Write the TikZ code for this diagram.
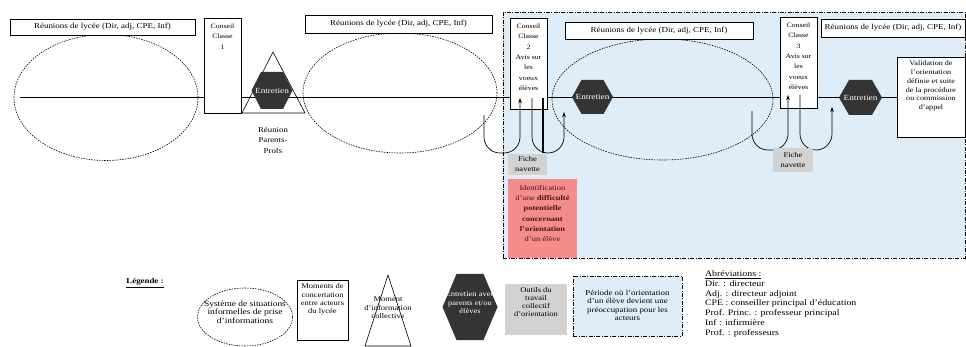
\documentclass[tikz,border=0pt]{standalone}
\usepackage{fontspec}
\setmainfont{Liberation Serif}[FakeStretch=1.18]
\usetikzlibrary{arrows.meta,shapes.geometric}
\definecolor{zoneblue}{RGB}{222,237,248}
\definecolor{hexgray}{RGB}{52,52,52}
\definecolor{toolgray}{RGB}{210,210,210}
\definecolor{alertpink}{RGB}{245,140,140}
\definecolor{inkred}{RGB}{70,20,20}
\newcommand\hexfill[2]{\fill[hexgray] (#1.west) -- ([xshift=#2]#1.north west) -- ([xshift=-#2]#1.north east) -- (#1.east) -- ([xshift=-#2]#1.south east) -- ([xshift=#2]#1.south west) -- cycle;}
\begin{document}
\begin{tikzpicture}[x=1pt,y=-1pt,
  every node/.style={inner sep=0pt, outer sep=0pt},
  frame/.style={draw, fill=white, line width=0.6pt},
  reunion/.style={frame, font=\fontsize{7.6}{9}\selectfont},
  ctext/.style={align=center, anchor=north, font=\fontsize{6.6}{10.3}\selectfont},
  situation/.style={ellipse, draw, line width=0.6pt, dash pattern=on 1.5pt off 1.1pt},
  hextext/.style={text=white, align=center, font=\fontsize{7.8}{9}\selectfont},
  toolbox/.style={fill=toolgray, align=center, font=\fontsize{7.2}{10}\selectfont},
  navarrow/.style={line width=0.7pt, rounded corners=16pt, -{Stealth[length=5pt,width=3.5pt]}},
  zonestyle/.style={draw, fill=zoneblue, line width=0.6pt, dash pattern=on 4pt off 1.5pt on 0.8pt off 1.5pt},
  mainline/.style={line width=0.7pt},
  legtext/.style={align=center, font=\fontsize{7.2}{8.4}\selectfont},
]
\useasboundingbox (0,0) rectangle (966,347);
% period zone
\node[zonestyle, minimum width=462pt, minimum height=246pt] (zone) at (734,135) {};
% informal situations
\node[situation, minimum width=184pt, minimum height=126pt] (sit1) at (106,97.5) {};
\node[situation, minimum width=194pt, minimum height=120pt] (sit2) at (400,93) {};
\node[situation, minimum width=221pt, minimum height=121pt] (sit3) at (662.5,99.5) {};
% main line
\coordinate (lstart) at (20,97);
\node[frame, minimum width=68pt, minimum height=80pt] (valid) at (931,97) {};
\node[align=center, anchor=north, font=\fontsize{6.9}{8.8}\selectfont] (validt) at ([yshift=-4pt]valid.north) {Validation de\\l'orientation\\définie et suite\\de la procédure\\ou commission\\d'appel};
\draw[mainline] (lstart) -- (valid.west);
% reunions
\node[reunion, minimum width=185pt, minimum height=16pt] (reu1) at (102.5,27) {Réunions de lycée (Dir, adj, CPE, Inf)};
\node[reunion, minimum width=187pt, minimum height=18pt] (reu2) at (398.5,24) {Réunions de lycée (Dir, adj, CPE, Inf)};
\node[reunion, minimum width=188pt, minimum height=17pt] (reu3) at (659,30.5) {Réunions de lycée (Dir, adj, CPE, Inf)};
\node[reunion, minimum width=144pt, minimum height=18pt] (reu4) at (893,28) {Réunions de lycée (Dir, adj, CPE, Inf)};
% conseils de classe
\node[frame, minimum width=37pt, minimum height=95pt] (cc1) at (222.5,65.5) {};
\node[ctext] (cc1t) at ([yshift=-6pt]cc1.north) {Conseil\\Classe\\1};
\node[frame, minimum width=37pt, minimum height=91pt] (cc2) at (528.5,63.5) {};
\node[ctext] (cc2t) at ([yshift=-6pt]cc2.north) {Conseil\\Classe\\2\\Avis sur\\les\\voeux\\élèves};
\node[frame, minimum width=37pt, minimum height=91pt] (cc3) at (798.5,62.5) {};
\node[ctext] (cc3t) at ([yshift=-6pt]cc3.north) {Conseil\\Classe\\3\\Avis sur\\les\\voeux\\élèves};
% triangle (reunion parents-profs)
\coordinate (t1a) at (273,52);
\coordinate (t1b) at (305,113);
\coordinate (t1c) at (242,113);
\draw[line width=0.6pt] (t1a) -- (t1b) -- (t1c) -- cycle;
\node[align=center, font=\fontsize{7.5}{10.5}\selectfont] (rpp) at (273,140) {Réunion\\Parents-\\Profs};
% entretiens
\node[minimum width=41pt, minimum height=37pt] (hx1) at (272,90.5) {};
\hexfill{hx1}{9.5pt}
\node[hextext] (hx1t) at (hx1) {Entretien};
\node[minimum width=41pt, minimum height=34pt] (hx2) at (592.5,97) {};
\hexfill{hx2}{9.5pt}
\node[hextext] (hx2t) at (hx2) {Entretien};
\node[minimum width=43pt, minimum height=35pt] (hx3) at (860.5,97.5) {};
\hexfill{hx3}{10pt}
\node[hextext] (hx3t) at (hx3) {Entretien};
% fiche navette arrows
\coordinate (aS) at (484,115); \coordinate (aE) at (520,98); \coordinate (aB) at (0,153);
\draw[navarrow] (aS) -- (aS |- aB) -- (aE |- aB) -- (aE);
\coordinate (bS) at (532,98); \coordinate (bE) at (564,112);
\draw[navarrow] (bS) -- (bS |- aB) -- (bE |- aB) -- (bE);
\coordinate (tS) at (543,98); \coordinate (tE) at (543,153);
\draw[line width=1.6pt] (tS) -- (tE);
\coordinate (cS) at (752,111); \coordinate (cE) at (788,95); \coordinate (cB) at (0,150);
\draw[navarrow] (cS) -- (cS |- cB) -- (cE |- cB) -- (cE);
\coordinate (dS) at (800,95); \coordinate (dE) at (832,107);
\draw[navarrow] (dS) -- (dS |- cB) -- (dE |- cB) -- (dE);
\node[toolbox, minimum width=39pt, minimum height=21pt] (fn1) at (527.5,164.5) {Fiche\\navette};
\node[toolbox, minimum width=40pt, minimum height=24pt] (fn2) at (793,160) {Fiche\\navette};
% identification
\node[fill=alertpink, minimum width=69pt, minimum height=79pt] (ident) at (542.5,218.5) {};
\node[align=center, text=inkred, font=\fontsize{7.2}{10.2}\selectfont] (identt) at (542.5,213.5) {Identification\\d'une \textbf{difficulté}\\\textbf{potentielle}\\\textbf{concernant}\\\textbf{l'orientation}\\d'un élève};
% legend
\node[font=\bfseries\fontsize{7.5}{9}\selectfont] (leg) at (145,283) {\underline{Légende :}};
\node[situation, minimum width=95pt, minimum height=58pt] (legsit) at (245,317) {};
\node[align=center, font=\fontsize{8}{8.6}\selectfont] (legsitt) at (245,312) {Système de situations\\informelles de prise\\d'informations};
\node[frame, minimum width=51pt, minimum height=60pt] (legbox) at (322.5,310) {};
\node[legtext] (legboxt) at (322.5,299.5) {Moments de\\concertation\\entre acteurs\\du lycée};
\coordinate (lta) at (388,275);
\coordinate (ltb) at (411,346);
\coordinate (ltc) at (365,346);
\draw[line width=0.6pt] (lta) -- (ltb) -- (ltc) -- cycle;
\node[legtext] (legtrit) at (388,308) {Moment\\d'information\\collective};
\node[minimum width=55pt, minimum height=66pt] (leghx) at (470,307) {};
\hexfill{leghx}{14pt}
\node[legtext, text=white] (leghxt) at (470,303) {Entretien avec\\parents et/ou\\élèves};
\node[fill=toolgray, minimum width=62pt, minimum height=51pt] (legtool) at (536,309.5) {};
\node[legtext, font=\fontsize{7.2}{8}\selectfont] (legtoolt) at (536,302) {Outils du\\travail\\collectif\\d'orientation};
\node[zonestyle, minimum width=109pt, minimum height=60pt] (legzone) at (627.5,306) {};
\node[legtext, font=\fontsize{7.5}{8.3}\selectfont] (legzonet) at (627.5,305.5) {Période où l'orientation\\d'un élève devient une\\préoccupation pour les\\acteurs};
\node[anchor=north west, align=left, font=\fontsize{8.4}{9.7}\selectfont] (abbr) at (705,271) {\underline{Abréviations :}\\Dir. : directeur\\Adj. : directeur adjoint\\CPE : conseiller principal d'éducation\\Prof. Princ. : professeur principal\\Inf : infirmière\\Prof. : professeurs};
\end{tikzpicture}
\end{document}
